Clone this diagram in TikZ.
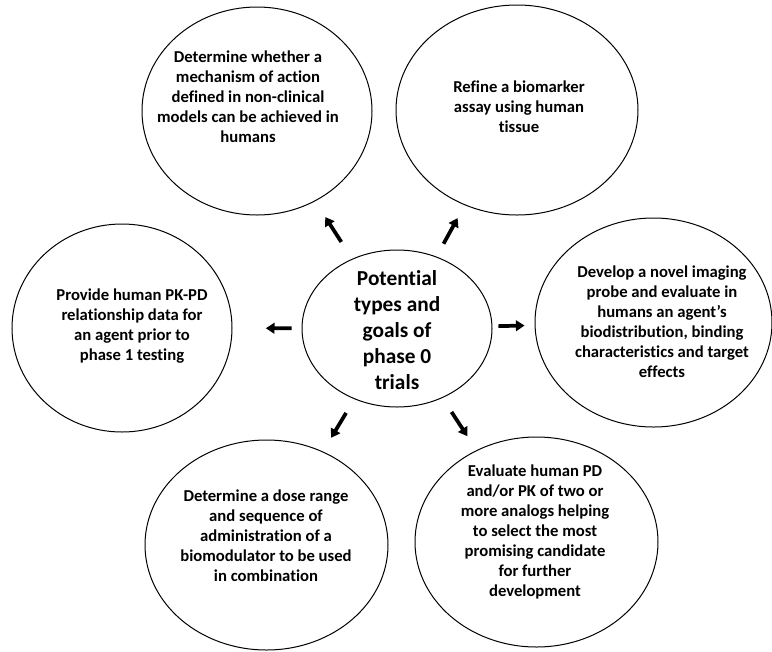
\documentclass[tikz,border=0pt]{standalone}
\usepackage{fontspec}
\setmainfont{Carlito}[Ligatures = NoCommon]
\usetikzlibrary{arrows.meta}
\usetikzlibrary{shapes.geometric}

\begin{document}
\begin{tikzpicture}[x = 0.75pt, y = -0.75pt, font = \bfseries]
	\tikzstyle{goalStyle} = [shape = ellipse, draw, line width = 0.75pt, inner sep = 0pt]
	\tikzstyle{goalText} = [align = center, inner sep = 0pt, font = \bfseries\fontsize{12.5}{15}\selectfont]
	\tikzstyle{hubText} = [align = center, inner sep = 0pt, font = \bfseries\fontsize{16}{19.5}\selectfont]
	\tikzstyle{arrowStyle} = [line width = 2.8pt, -{Triangle[length = 6.5pt, width = 8pt]}]
	\useasboundingbox (0, 0) rectangle (772, 651);
	% ellipses
	\node[goalStyle, minimum width = 142.5pt, minimum height = 117.75pt] (hub) at (397, 328.5) {};
	\node[goalStyle, minimum width = 172.5pt, minimum height = 156pt] (mech) at (257, 111) {};
	\node[goalStyle, minimum width = 181.5pt, minimum height = 157.5pt] (assay) at (517, 110) {};
	\node[goalStyle, minimum width = 165pt, minimum height = 156pt] (pkpd) at (122, 328) {};
	\node[goalStyle, minimum width = 177.75pt, minimum height = 156.75pt] (imaging) at (653.5, 322.5) {};
	\node[goalStyle, minimum width = 182.25pt, minimum height = 157.5pt] (dose) at (266.5, 545) {};
	\node[goalStyle, minimum width = 182.25pt, minimum height = 157.5pt] (analog) at (536.5, 542) {};
	% texts
	\node[hubText] (hubLabel) at (397, 330) {Potential\\types and\\goals of\\phase 0\\trials};
	\node[goalText] (mechLabel) at (248, 97) {Determine whether a\\mechanism of action\\defined in non-clinical\\models can be achieved in\\humans};
	\node[goalText] (assayLabel) at (519, 107) {Refine a biomarker\\assay using human\\tissue};
	\node[goalText] (pkpdLabel) at (132, 326) {Provide human PK-PD\\relationship data for\\an agent prior to\\phase 1 testing};
	\node[goalText] (imagingLabel) at (662, 322) {Develop a novel imaging\\probe and evaluate in\\humans an agent’s\\biodistribution, binding\\characteristics and target\\effects};
	\node[goalText] (doseLabel) at (266, 536) {Determine a dose range\\and sequence of\\administration of a\\biomodulator to be used\\in combination};
	\node[goalText] (analogLabel) at (535, 532) {Evaluate human PD\\and/or PK of two or\\more analogs helping\\to select the most\\promising candidate\\for further\\development};
	% arrows
	\draw[arrowStyle, shorten <= 15pt, shorten >= 14pt] (hub) -- (mech);
	\draw[arrowStyle, shorten <= 11pt, shorten >= 11pt] (hub) -- (assay);
	\draw[arrowStyle, shorten <= 7.5pt, shorten >= 25pt] (hub) -- (pkpd);
	\draw[arrowStyle, shorten <= 4.5pt, shorten >= 7.5pt] (hub) -- (imaging);
	\draw[arrowStyle, shorten <= 12pt, shorten >= 12pt] (hub) -- (dose);
	\draw[arrowStyle, shorten <= 12.5pt, shorten >= 12.5pt] (hub) -- (analog);
\end{tikzpicture}
\end{document}
